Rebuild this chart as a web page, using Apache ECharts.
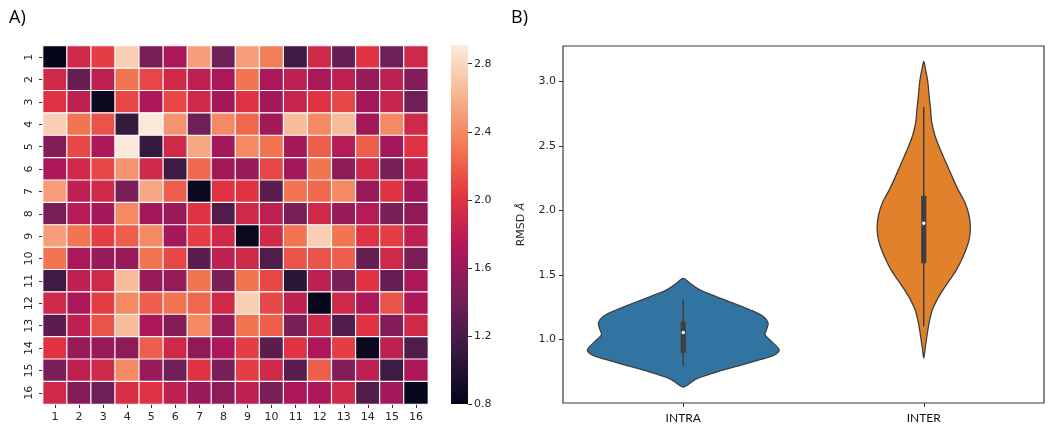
<!DOCTYPE html>
<html><head><meta charset="utf-8">
<script src="https://cdn.jsdelivr.net/npm/echarts@6/dist/echarts.min.js"></script>
<style>html,body{margin:0;padding:0;background:#fff}#c{width:1050px;height:436px}</style>
</head><body><div id="c"></div>
<script>
// ---------- Panel A: heatmap data ----------
const hmCols = ['1','2','3','4','5','6','7','8','9','10','11','12','13','14','15','16'];
const hmRows = ['1','2','3','4','5','6','7','8','9','10','11','12','13','14','15','16'];
const r01 = [0.80, 1.90, 2.05, 2.75, 1.45, 1.70, 2.50, 1.40, 2.50, 2.35, 1.15, 1.90, 1.35, 2.00, 1.40, 1.90];
const r02 = [1.90, 1.35, 1.80, 2.30, 2.10, 1.90, 1.80, 1.70, 2.30, 1.70, 1.80, 1.70, 1.80, 1.60, 1.80, 1.50];
const r03 = [2.00, 1.80, 0.85, 2.10, 1.70, 2.10, 1.90, 1.65, 2.00, 1.65, 1.85, 2.00, 2.10, 1.65, 1.85, 1.40];
const r04 = [2.75, 2.30, 2.15, 1.10, 2.90, 2.45, 1.40, 2.40, 2.25, 1.65, 2.65, 2.40, 2.65, 1.65, 2.40, 1.90];
const r05 = [1.50, 2.10, 1.70, 2.90, 1.10, 1.90, 2.55, 1.65, 2.40, 2.30, 1.65, 2.20, 1.75, 2.20, 1.65, 2.00];
const r06 = [1.70, 1.90, 2.10, 2.45, 1.90, 1.15, 2.25, 1.65, 1.60, 2.10, 1.65, 2.30, 1.55, 1.90, 1.45, 1.80];
const r07 = [2.50, 1.80, 1.90, 1.45, 2.55, 2.20, 0.85, 2.00, 2.00, 1.30, 2.30, 2.25, 2.40, 1.60, 2.00, 1.65];
const r08 = [1.45, 1.75, 1.65, 2.40, 1.65, 1.60, 2.00, 1.25, 1.90, 1.80, 1.45, 1.90, 1.60, 1.75, 1.45, 1.55];
const r09 = [2.50, 2.30, 2.05, 2.20, 2.40, 1.65, 2.05, 1.90, 0.85, 1.90, 2.30, 2.75, 2.30, 2.00, 2.05, 1.80];
const r10 = [2.30, 1.70, 1.60, 1.60, 2.30, 2.10, 1.30, 1.80, 1.90, 1.25, 2.15, 2.15, 2.20, 1.35, 1.90, 1.45];
const r11 = [1.15, 1.80, 1.90, 2.65, 1.60, 1.60, 2.30, 1.45, 2.30, 2.10, 1.05, 1.80, 1.45, 2.00, 1.35, 1.70];
const r12 = [1.90, 1.70, 2.05, 2.40, 2.20, 2.30, 2.25, 1.90, 2.75, 2.10, 1.80, 0.82, 1.90, 1.70, 2.15, 1.70];
const r13 = [1.30, 1.80, 2.15, 2.65, 1.70, 1.50, 2.40, 1.60, 2.30, 2.20, 1.45, 1.90, 1.25, 2.00, 1.50, 1.90];
const r14 = [2.00, 1.60, 1.60, 1.55, 2.20, 1.90, 1.55, 1.70, 2.05, 1.30, 2.00, 1.70, 2.05, 0.85, 1.80, 1.25];
const r15 = [1.45, 1.80, 1.90, 2.40, 1.60, 1.40, 2.00, 1.45, 2.05, 1.90, 1.30, 2.20, 1.50, 1.80, 1.15, 1.70];
const r16 = [1.90, 1.50, 1.40, 1.95, 2.00, 1.80, 1.60, 1.55, 1.80, 1.45, 1.70, 1.70, 1.90, 1.25, 1.65, 0.82];
const hmMatrix = [r01,r02,r03,r04,r05,r06,r07,r08,r09,r10,r11,r12,r13,r14,r15,r16];

// colour bar
const cbMin = 0.8;
const cbMax = 2.91;
const cbTicks = [0.8, 1.2, 1.6, 2.0, 2.4, 2.8];
const rocket = ['#03051a','#35193e','#701f57','#ad1759','#e13342','#f37651','#f6b48f','#faebdd'];

// ---------- Panel B: violin data ----------
const violinCats = ['INTRA', 'INTER'];
const violinColors = ['#3274a1', '#e1812c'];
const intraY = [1.474,1.436,1.384,1.332,1.281,1.230,1.178,1.127,1.075,1.036,0.985,0.920,0.882,0.843,0.791,0.740,0.689,0.632];
const intraW = [0,0.028,0.069,0.137,0.208,0.277,0.333,0.353,0.346,0.340,0.367,0.399,0.381,0.319,0.220,0.125,0.049,0];
const interY = [3.154,3.097,2.994,2.891,2.788,2.685,2.582,2.479,2.376,2.273,2.170,2.066,1.964,1.861,1.770,1.693,1.616,1.539,1.461,1.384,1.307,1.230,1.153,1.075,0.998,0.920,0.856];
const interW = [0,0.007,0.017,0.022,0.028,0.033,0.046,0.067,0.091,0.115,0.140,0.170,0.188,0.194,0.188,0.175,0.157,0.136,0.108,0.080,0.055,0.036,0.025,0.017,0.011,0.005,0];
// [whisker low, q1, median, q3, whisker high]
const intraBox = [0.797, 0.895, 1.054, 1.139, 1.307];
const interBox = [1.100, 1.590, 1.900, 2.113, 2.801];
const rmsdTicks = [1.0, 1.5, 2.0, 2.5, 3.0];
const rmsdMin = 0.508;
const rmsdMax = 3.273;

// ---------- build ----------
const hmData = [];
hmMatrix.forEach((row, r) => row.forEach((v, c) => hmData.push([c, r, v])));
const profY = [intraY, interY];
const profW = [intraW, interW];
const boxes = [intraBox, interBox];

const txt = '#262626';
const axisFont = 'DejaVu Sans';
const cbStops = rocket.map((c, i) => ({offset: i / (rocket.length - 1), color: c}));

const chart = echarts.init(document.getElementById('c'), null, {renderer: 'canvas'});
chart.setOption({
  backgroundColor: '#fff',
  animation: false,
  title: [
    {text: 'A)', left: 4, top: 4, textStyle: {fontSize: 18, fontWeight: 'normal', color: '#000', fontFamily: 'Open Sans'}},
    {text: 'B)', left: 506, top: 4, textStyle: {fontSize: 18, fontWeight: 'normal', color: '#000', fontFamily: 'Open Sans'}}
  ],
  grid: [
    {left: 43, top: 46, width: 385, height: 358},
    {left: 451, top: 45, width: 17, height: 359},
    {left: 563, top: 46, width: 481, height: 357, show: true, borderColor: '#3a3a3a', borderWidth: 1.2, backgroundColor: 'transparent'}
  ],
  xAxis: [
    {type: 'category', gridIndex: 0, data: hmCols, axisLine: {show: false},
     axisTick: {show: true, alignWithLabel: true, length: 4, lineStyle: {color: '#333'}},
     axisLabel: {margin: 8, fontSize: 11, color: txt, fontFamily: axisFont}, splitLine: {show: false}},
    {type: 'category', gridIndex: 1, data: ['cb'], show: false},
    {type: 'category', gridIndex: 2, data: violinCats, axisLine: {show: false},
     axisTick: {show: true, alignWithLabel: true, length: 4, lineStyle: {color: '#333'}},
     axisLabel: {margin: 9, fontSize: 12, color: '#111', fontFamily: 'Lato'}, splitLine: {show: false}}
  ],
  yAxis: [
    {type: 'category', gridIndex: 0, data: hmRows, inverse: true, axisLine: {show: false},
     axisTick: {show: true, alignWithLabel: true, length: 4, lineStyle: {color: '#333'}},
     axisLabel: {rotate: 90, margin: 8, fontSize: 11, color: txt, fontFamily: axisFont}, splitLine: {show: false}},
    {type: 'value', gridIndex: 1, position: 'right', min: cbMin, max: cbMax, axisLine: {show: false},
     axisTick: {show: true, length: 4, customValues: cbTicks, lineStyle: {color: '#333'}},
     axisLabel: {customValues: cbTicks, formatter: v => v.toFixed(1), margin: 6, fontSize: 11, color: txt, fontFamily: axisFont},
     splitLine: {show: false}},
    {type: 'value', gridIndex: 2, min: rmsdMin, max: rmsdMax, axisLine: {show: false},
     axisTick: {show: true, length: 4, customValues: rmsdTicks, lineStyle: {color: '#333'}},
     axisLabel: {customValues: rmsdTicks, formatter: v => v.toFixed(1), margin: 7, fontSize: 11, color: txt, fontFamily: axisFont},
     splitLine: {show: false},
     name: '{a|RMSD }{b|Å}', nameLocation: 'middle', nameGap: 36,
     nameTextStyle: {rich: {a: {fontSize: 11, color: txt, fontFamily: axisFont}, b: {fontSize: 11, color: txt, fontFamily: axisFont, fontStyle: 'italic'}}}}
  ],
  visualMap: {type: 'continuous', show: false, min: cbMin, max: cbMax, seriesIndex: 0, dimension: 2, inRange: {color: rocket}},
  series: [
    {type: 'heatmap', xAxisIndex: 0, yAxisIndex: 0, data: hmData,
     itemStyle: {borderColor: '#fff', borderWidth: 1.2}, emphasis: {disabled: true}},
    {type: 'custom', xAxisIndex: 1, yAxisIndex: 1, data: [[0, cbMin, cbMax]], encode: {x: 0, y: [1, 2]},
     renderItem: (params, api) => {
       const top = api.coord([0, api.value(2)]);
       const bot = api.coord([0, api.value(1)]);
       const w = api.size([1, 0])[0];
       return {type: 'rect', shape: {x: top[0] - w / 2, y: top[1], width: w, height: bot[1] - top[1]},
               style: {fill: new echarts.graphic.LinearGradient(0, 1, 0, 0, cbStops)}};
     }},
    {type: 'custom', xAxisIndex: 2, yAxisIndex: 2, data: [[0, intraBox[2]], [1, interBox[2]]], encode: {x: 0, y: 1},
     renderItem: (params, api) => {
       const c = api.value(0);
       const Y = profY[c], W = profW[c], s = boxes[c];
       const band = api.size([1, 0])[0];
       const right = [], left = [];
       for (let i = 0; i < Y.length; i++) {
         const p = api.coord([c, Y[i]]);
         right.push([p[0] + W[i] * band, p[1]]);
         left.push([p[0] - W[i] * band, p[1]]);
       }
       const pts = right.concat(left.reverse().slice(1, -1));
       const cx = api.coord([c, s[2]])[0];
       const yLo = api.coord([c, s[0]])[1], yQ1 = api.coord([c, s[1]])[1], yMed = api.coord([c, s[2]])[1];
       const yQ3 = api.coord([c, s[3]])[1], yHi = api.coord([c, s[4]])[1];
       return {type: 'group', children: [
         {type: 'polygon', shape: {points: pts, smooth: 0.3}, style: {fill: violinColors[c], stroke: '#3f3f3f', lineWidth: 1.3}},
         {type: 'line', shape: {x1: cx, y1: yHi, x2: cx, y2: yLo}, style: {stroke: '#3f3f3f', lineWidth: 1.5}},
         {type: 'rect', shape: {x: cx - 2.6, y: yQ3, width: 5.2, height: yQ1 - yQ3}, style: {fill: '#3f3f3f'}},
         {type: 'circle', shape: {cx: cx, cy: yMed, r: 1.7}, style: {fill: '#fff'}}
       ]};
     }}
  ]
});
</script></body></html>
